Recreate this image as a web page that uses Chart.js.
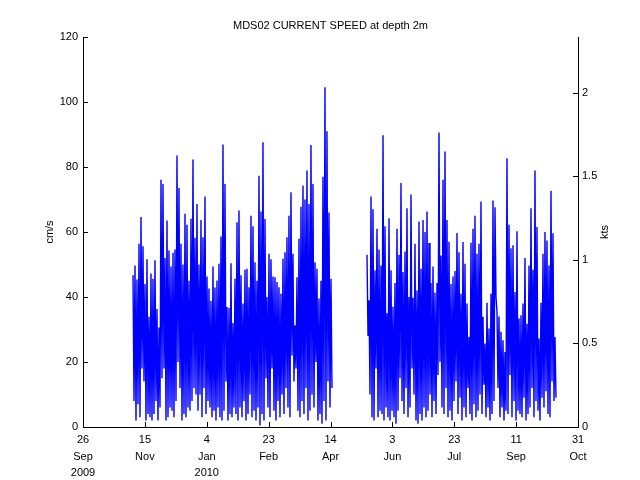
<!DOCTYPE html>
<html><head><meta charset="utf-8">
<script src="https://cdn.jsdelivr.net/npm/chart.js@4/dist/chart.umd.min.js"></script>
<style>html,body{margin:0;padding:0;background:#fff}</style>
</head><body>
<canvas id="c" width="640" height="480"></canvas>
<script>
// x axis: days since 26 Sep 2009
const tickDayOffsets = [0, 50, 100, 150, 200, 250, 300, 350, 400];
const tickDays   = ['26', '15', '4', '23', '14', '3', '23', '11', '31'];
const tickMonths = ['Sep', 'Nov', 'Jan', 'Feb', 'Apr', 'Jun', 'Jul', 'Sep', 'Oct'];
const tickYears  = ['2009', '', '2010', '', '', '', '', '', ''];
const cmTicks = [0, 20, 40, 60, 80, 100, 120];
const ktTicks = [0, 0.5, 1, 1.5, 2];
const CM_PER_KT = 51.444;

// deployment 1 (Nov 2009 - Apr 2010) and deployment 2 (May - Oct 2010)
const startA = 40.4;   // day offset of first sample, segment A
const startB = 229.5;  // day offset of first sample, segment B
const halfStep = 0.808; // days between successive samples

const hiA = [46.7,49.7,45.4,56.4,64.6,55.6,44,51.6,33.9,47.2,
  45.6,51.3,36.3,30.6,76.1,74.8,52,63.5,54.3,49.4,
  53.6,54.6,83.5,73.5,56.4,50,65.6,62.2,45,64.1,
  82.3,58.2,68.6,50,63.7,58.4,70.9,46.3,42.6,38.8,
  49.4,42.9,45.1,50.2,58.6,86.9,74.8,36.9,36.7,50.4,
  32,45.6,63,66.6,46.7,38,48.4,48.7,43,65,
  61.8,50.7,45,77.3,66.3,87.6,64,40,53.3,51.6,
  46.3,46.1,44.6,43,41,51.8,53.8,58.4,65,72.2,
  53.3,31.3,46.1,57.9,67.8,74.3,70,78.9,68.6,86.8,
  74.8,50.7,48.7,39.5,45,77,104.5,91,66,45.6];
const loA = [8,2,7,3,18,14,2,4,3,2,
  4,8,2,6,15,18,2,3,6,5,
  3,8,20,12,2,4,3,6,5,8,
  12,10,5,10,3,12,4,8,6,3,
  5,2,6,3,2,5,14,2,4,3,
  6,4,2,6,3,8,2,4,10,3,
  5,2,6,0.5,4,2,15,6,3,18,
  5,2,8,3,10,4,12,6,3,22,
  14,18,5,3,8,4,12,2,5,10,
  6,20,2,4,1,8,2,14,6,12];
const hiB = [53,39,70.9,67,48.2,61,54.6,49.7,89.8,61.8,
  35,64.2,48.2,37,44.3,61,53,75.1,47.7,54,
  67.3,40,71.5,39.8,56.4,42,63.2,48.7,63.7,60,
  66.3,56.6,44.3,49.4,41.3,44.3,90.6,52.8,76.1,84.8,
  63.7,57,44,46.3,48,59.7,53.8,41,56.9,50.2,
  38,27.7,56.7,61,65,53.3,56.4,69.4,33.9,25.7,
  38.2,30.3,41,69.7,67.6,35.4,34,29.3,26.7,23.1,
  82.7,62.2,55,55.9,41.5,60.2,33.4,34.4,38,52,
  31.8,49.7,67.3,48.4,78.9,61.5,27.2,38.2,53.3,60,
  57.4,49.7,72.7,59.6,27.7];
const loB = [28,10,3,2,18,3,5,4,2,6,
  3,2,5,3,1,5,15,8,4,12,
  3,6,18,10,2,1,4,2,6,3,
  5,10,3,8,4,16,20,6,4,12,
  3,5,2,8,14,4,9,2,6,3,
  12,4,2,7,3,5,10,4,13,3,
  6,2,4,8,40,12,3,6,2,5,
  4,16,3,8,2,5,4,3,9,2,
  4,6,12,3,8,5,2,9,6,11,
  4,3,14,8,9];

function series(start, hi, lo) {
  const pts = [];
  for (let i = 0; i < hi.length; i++) {
    pts.push({x: start + 2 * i * halfStep, y: hi[i]});
    pts.push({x: start + (2 * i + 1) * halfStep, y: lo[i]});
  }
  return pts;
}

const FONT = '"Liberation Sans", Arial, Helvetica, sans-serif';

const inwardTicks = {
  id: 'inwardTicks',
  afterDraw(chart) {
    const ctx = chart.ctx, a = chart.chartArea;
    const sx = chart.scales.x, sy = chart.scales.y, sy2 = chart.scales.y2;
    ctx.save();
    ctx.strokeStyle = '#000';
    ctx.lineWidth = 1;
    ctx.beginPath();
    tickDayOffsets.forEach(v => {
      const p = Math.round(sx.getPixelForValue(v)) + 0.5;
      ctx.moveTo(p, a.bottom); ctx.lineTo(p, a.bottom - 5);
    });
    cmTicks.forEach(v => {
      const p = Math.round(sy.getPixelForValue(v)) + 0.5;
      ctx.moveTo(a.left, p); ctx.lineTo(a.left + 5, p);
    });
    ktTicks.forEach(v => {
      const p = Math.round(sy2.getPixelForValue(v)) + 0.5;
      ctx.moveTo(a.right, p); ctx.lineTo(a.right - 5, p);
    });
    ctx.stroke();
    ctx.translate(605, (a.top + a.bottom) / 2);
    ctx.rotate(-Math.PI / 2);
    ctx.fillStyle = '#000';
    ctx.font = '11px ' + FONT;
    ctx.textAlign = 'center';
    ctx.textBaseline = 'middle';
    ctx.fillText('kts', 0, 0);
    ctx.restore();
  }
};

new Chart(document.getElementById('c'), {
  type: 'line',
  data: {
    datasets: [
      {data: series(startA, hiA, loA), borderColor: '#0000ff', borderWidth: 1.4, pointRadius: 0, tension: 0, fill: false, yAxisID: 'y'},
      {data: series(startB, hiB, loB), borderColor: '#0000ff', borderWidth: 1.4, pointRadius: 0, tension: 0, fill: false, yAxisID: 'y'}
    ]
  },
  options: {
    responsive: false,
    animation: false,
    devicePixelRatio: 1,
    parsing: false,
    layout: {padding: {left: 21, right: 0, top: 0, bottom: 0}},
    plugins: {
      legend: {display: false},
      tooltip: {enabled: false},
      title: {
        display: true,
        text: 'MDS02 CURRENT SPEED at depth 2m',
        color: '#000',
        font: {family: FONT, size: 11, weight: 'normal', lineHeight: 1.2},
        padding: {top: 19, bottom: 4.8}
      }
    },
    scales: {
      x: {
        type: 'linear', min: 0, max: 400,
        grid: {display: false, drawTicks: false},
        border: {display: true, color: '#000', width: 1},
        afterBuildTicks: s => { s.ticks = tickDayOffsets.map(v => ({value: v})); },
        afterFit: s => { s.height = 53; },
        ticks: {
          color: '#000', font: {family: FONT, size: 11, lineHeight: 1.5},
          padding: 4.75, maxRotation: 0, autoSkip: false,
          callback: (v, i) => tickYears[i] ? [tickDays[i], tickMonths[i], tickYears[i]] : [tickDays[i], tickMonths[i]]
        }
      },
      y: {
        type: 'linear', position: 'left', min: 0, max: 120,
        grid: {display: false, drawTicks: false},
        border: {display: true, color: '#000', width: 1},
        afterBuildTicks: s => { s.ticks = cmTicks.map(v => ({value: v})); },
        afterFit: s => { s.width = 62; },
        ticks: {color: '#000', font: {family: FONT, size: 11}, padding: 5, callback: v => String(v)},
        title: {display: true, text: 'cm/s', color: '#000', font: {family: FONT, size: 11, lineHeight: 1.2}, padding: {top: 22.4, bottom: 0}}
      },
      y2: {
        type: 'linear', position: 'right', min: 0, max: 120 / CM_PER_KT,
        grid: {display: false, drawTicks: false},
        border: {display: true, color: '#000', width: 1},
        afterBuildTicks: s => { s.ticks = ktTicks.map(v => ({value: v})); },
        afterFit: s => { s.width = 62; },
        ticks: {color: '#000', font: {family: FONT, size: 11}, padding: 4, callback: v => String(v)}
      }
    }
  },
  plugins: [inwardTicks]
});
</script>
</body></html>
